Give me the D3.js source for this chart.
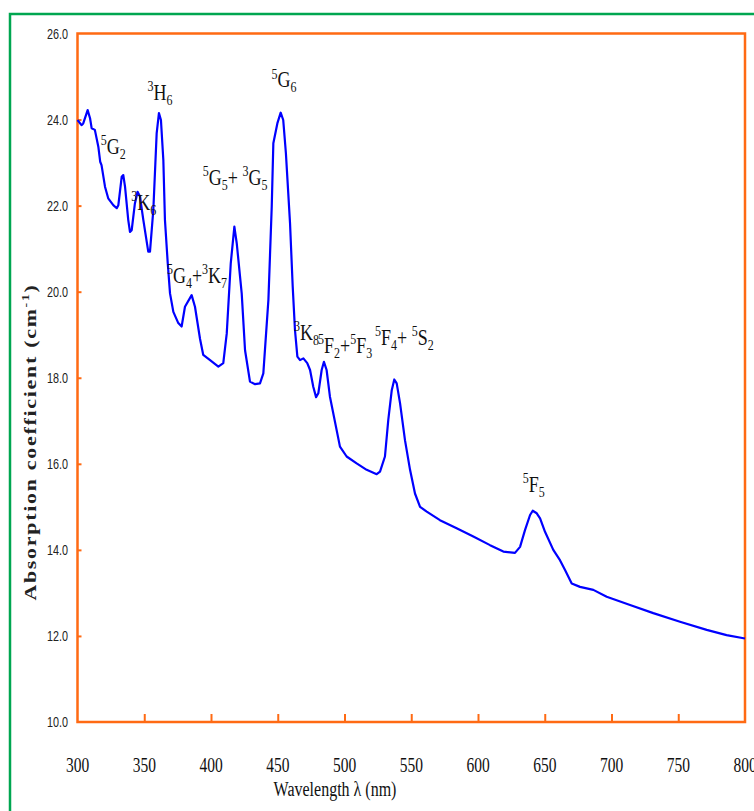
<!DOCTYPE html>
<html>
<head>
<meta charset="UTF-8">
<title>Absorption spectrum</title>
<script src="https://cdn.jsdelivr.net/npm/d3@7"></script>
<style>
    body { margin: 0; background: #fff; }
    svg { display: block; }
</style>
</head>
<body>
<script>
// wavelength (nm)
const wavelength = [300, 303, 304.3, 307.6, 309.4, 310.6, 313, 315.6, 317, 318, 320.6, 323, 326.8, 329.4, 330.6,
    333.1, 334.3, 335.6, 338, 339.3, 340.6, 343, 345, 346.8, 349.3, 353, 354.3, 356.8, 359.3, 361, 362.5,
    364.3, 365.5, 367.6, 369.3, 371.8, 375.5, 378, 380.5, 385.5, 388, 391.8, 394.2, 399.3, 405.5, 409.2,
    411.8, 414.8, 417.5, 419.3, 423, 425.5, 429.2, 433, 436.7, 439.2, 443, 445.5, 446.7, 449.7, 452.2,
    454.1, 456.1, 459.2, 461.2, 462.9, 464.7, 466.7, 469.2, 472.1, 474.2, 476.6, 478.7, 480.4, 482.9,
    484.6, 486.6, 489.1, 496.6, 501.6, 509.1, 516.6, 524.1, 526.6, 530.3, 532.8, 535.4, 537.3, 539.1,
    541.6, 545.3, 549.1, 552.8, 556.6, 561.6, 571.5, 584, 596.5, 609, 619, 627.7, 631.5, 635.2, 639, 641,
    644, 646.5, 650.2, 656.4, 661.4, 665.2, 670.2, 676.4, 686.4, 696.4, 713.9, 731.3, 751.3, 771.3, 786.2, 800];
// absorption coefficient (cm-1)
const absorption = [23.99, 23.87, 23.91, 24.22, 24.03, 23.80, 23.76, 23.37, 23.02, 22.94, 22.44, 22.17, 22.01, 21.94, 22.01,
    22.67, 22.71, 22.44, 21.67, 21.39, 21.43, 22.05, 22.32, 22.21, 21.67, 20.93, 20.93, 21.90, 23.68, 24.15, 23.99,
    23.06, 21.67, 20.66, 19.96, 19.53, 19.27, 19.19, 19.65, 19.92, 19.65, 18.90, 18.53, 18.41, 18.26, 18.34,
    19.03, 20.66, 21.51, 21.12, 19.96, 18.64, 17.91, 17.85, 17.87, 18.10, 19.81, 21.98, 23.45, 23.91, 24.16,
    23.99, 23.22, 21.59, 20.12, 19.11, 18.49, 18.41, 18.45, 18.34, 18.18, 17.79, 17.55, 17.64, 18.18,
    18.37, 18.18, 17.56, 16.40, 16.17, 16.01, 15.86, 15.76, 15.82, 16.17, 17.02, 17.71, 17.96, 17.87,
    17.41, 16.55, 15.86, 15.31, 15.00, 14.89, 14.69, 14.50, 14.31, 14.11, 13.96, 13.93, 14.07, 14.46, 14.81, 14.91,
    14.85, 14.73, 14.42, 14.00, 13.76, 13.53, 13.22, 13.14, 13.07, 12.91, 12.72, 12.53, 12.33, 12.14, 12.02, 11.94];

const xTicks = [300, 350, 400, 450, 500, 550, 600, 650, 700, 750, 800];
const yTicks = [10, 12, 14, 16, 18, 20, 22, 24, 26];

// band labels, split into superscript / normal / subscript parts
const bandParts = [
    [["sup", "5"], ["n", "G"], ["sub", "2"]],
    [["sup", "3"], ["n", "H"], ["sub", "6"]],
    [["sup", "3"], ["n", "K"], ["sub", "6"]],
    [["sup", "5"], ["n", "G"], ["sub", "4"], ["n", "+"], ["sup", "3"], ["n", "K"], ["sub", "7"]],
    [["sup", "5"], ["n", "G"], ["sub", "5"], ["n", "+ "], ["sup", "3"], ["n", "G"], ["sub", "5"]],
    [["sup", "5"], ["n", "G"], ["sub", "6"]],
    [["sup", "3"], ["n", "K"], ["sub", "8"]],
    [["sup", "5"], ["n", "F"], ["sub", "2"], ["n", "+"], ["sup", "5"], ["n", "F"], ["sub", "3"]],
    [["sup", "5"], ["n", "F"], ["sub", "4"], ["n", "+ "], ["sup", "5"], ["n", "S"], ["sub", "2"]],
    [["sup", "5"], ["n", "F"], ["sub", "5"]]
];
// label anchor in data units (left edge wavelength, baseline absorption)
const bandX = [317.5, 352.5, 340.2, 367, 393.9, 445.4, 462.1, 480.2, 522.9, 633.5];
const bandY = [23.2, 24.45, 21.9, 20.2, 22.48, 24.75, 18.88, 18.58, 18.76, 15.35];

const W = 754, H = 811;
const margin = {left: 77.5, right: 9, top: 33.5, bottom: 89};

const svg = d3.select("body").append("svg").attr("width", W).attr("height", H);

// green outer border
svg.append("rect")
    .attr("x", 10).attr("y", 14)
    .attr("width", 800).attr("height", 900)
    .attr("fill", "none").attr("stroke", "#00a650").attr("stroke-width", 2.5);

const x = d3.scaleLinear().domain([300, 800]).range([margin.left, W - margin.right]);
const y = d3.scaleLinear().domain([10, 26]).range([H - margin.bottom, margin.top]);

const orange = "#ff6a13";

// bottom axis: inner ticks
svg.append("g")
    .attr("transform", `translate(0,${y(10)})`)
    .call(d3.axisBottom(x).tickValues(xTicks.slice(1, -1)).tickSize(-8).tickFormat(""))
    .call(g => g.select(".domain").remove())
    .call(g => g.selectAll("line").attr("stroke", orange).attr("stroke-width", 2));

// left axis: inner ticks
svg.append("g")
    .attr("transform", `translate(${x(300)},0)`)
    .call(d3.axisLeft(y).tickValues(yTicks.slice(1, -1)).tickSize(-4).tickFormat(""))
    .call(g => g.select(".domain").remove())
    .call(g => g.selectAll("line").attr("stroke", orange).attr("stroke-width", 2));

// frame
svg.append("rect")
    .attr("x", x(300)).attr("y", y(26))
    .attr("width", x(800) - x(300)).attr("height", y(10) - y(26))
    .attr("fill", "none").attr("stroke", orange).attr("stroke-width", 2.5);

// y tick labels (narrow look)
svg.append("g").selectAll("text").data(yTicks).join("text")
    .attr("transform", d => `translate(68,${y(d) + 5}) scale(0.83,1.15)`)
    .attr("text-anchor", "end")
    .style("font-family", "'Liberation Sans', Arial, sans-serif")
    .style("font-size", "13px")
    .attr("fill", "#222")
    .text(d => d.toFixed(1));

// x tick labels
svg.append("g").selectAll("text").data(xTicks).join("text")
    .attr("transform", d => `translate(${x(d)},772) scale(1,1.4)`)
    .attr("text-anchor", "middle")
    .style("font-family", "'Liberation Serif', 'Times New Roman', serif")
    .style("font-size", "15.5px")
    .attr("fill", "#111")
    .text(d => d);

// axis titles
svg.append("text")
    .attr("transform", "translate(335,796) scale(1,1.35)")
    .attr("text-anchor", "middle")
    .style("font-family", "'Liberation Serif', 'Times New Roman', serif")
    .style("font-size", "16px")
    .attr("fill", "#111")
    .text("Wavelength λ (nm)");

const yt = svg.append("text")
    .attr("transform", "translate(36,442) rotate(-90) scale(1.25,1)")
    .attr("text-anchor", "middle")
    .style("font-family", "'Liberation Serif', 'Times New Roman', serif")
    .style("font-size", "17.5px")
    .style("font-weight", "bold")
    .style("letter-spacing", "1.4px")
    .attr("fill", "#222");
yt.append("tspan").text("Absorption  coefficient (cm");
yt.append("tspan").attr("dy", -7).style("font-size", "11px").text("-1");
yt.append("tspan").attr("dy", 7).text(")");

// spectrum line
const line = d3.line().x(d => x(d[0])).y(d => y(d[1]));
svg.append("path")
    .datum(d3.zip(wavelength, absorption))
    .attr("fill", "none")
    .attr("stroke", "#0000ff")
    .attr("stroke-width", 2.2)
    .attr("stroke-linejoin", "round")
    .attr("d", line);

// band labels with super/subscripts
bandParts.forEach((parts, i) => {
    const t = svg.append("text")
        .attr("transform", `translate(${x(bandX[i])},${y(bandY[i])}) scale(1,1.25)`)
        .style("font-family", "'Liberation Serif', 'Times New Roman', serif")
        .style("font-size", "18px")
        .attr("fill", "#111");
    let shift = 0;
    parts.forEach(([kind, s]) => {
        const target = kind === "sup" ? -7 : kind === "sub" ? 4 : 0;
        t.append("tspan")
            .attr("dy", target - shift)
            .style("font-size", kind === "n" ? "18px" : "12px")
            .style("white-space", "pre")
            .text(s);
        shift = target;
    });
});
</script>
</body>
</html>
